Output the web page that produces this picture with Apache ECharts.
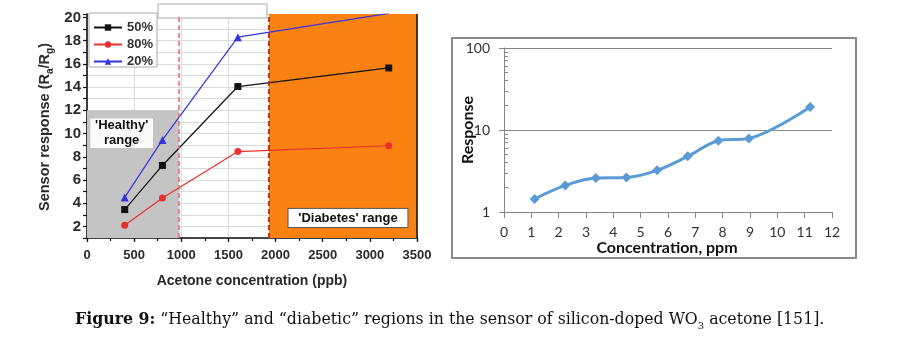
<!DOCTYPE html>
<html><head><meta charset="utf-8">
<script src="https://cdn.jsdelivr.net/npm/echarts@6/dist/echarts.min.js"></script>
<style>html,body{margin:0;padding:0;background:#fff}#c{width:919px;height:355px}</style>
</head><body><div id="c"></div>
<script>
// ---------- Left chart data ----------
const acetonePpb = [400, 800, 1600, 3200];
const rh50 = [3.45, 7.25, 14.05, 15.65];
const rh80 = [2.1, 4.45, 8.45, 8.95];
const rh20 = [4.5, 9.45, 18.3, 20.35];
const leftSeriesNames = ['50%', '80%', '20%'];
const healthyRange = [0, 975, 1, 12];
const healthyLabelBox = [35, 700, 8.75, 11.3];
const diabetesRange = [1930, 3500, 1, 20.3];
const diabetesLabelBox = [2132, 3404, 1.9, 3.55];
const thresholdLines = [975, 1930];

// ---------- Right chart data ----------
const concPpm = [1.12, 2.24, 3.36, 4.48, 5.6, 6.72, 7.84, 8.96, 11.2];
const responseVals = [1.44, 2.11, 2.6, 2.64, 3.22, 4.77, 7.41, 7.9, 19.1];
const logMinorTicks = [2, 3, 4, 5, 6, 7, 8, 9, 20, 30, 40, 50, 60, 70, 80, 90];

const zip = (xs, ys) => xs.map((x, i) => [x, ys[i]]);
const AR = 'Liberation Sans, Arial, sans-serif';
const CAL = 'Lato, Noto Sans, sans-serif';

const chart = echarts.init(document.getElementById('c'));
chart.setOption({
  animation: false,
  backgroundColor: '#fff',
  grid: [
    {left: 87, top: 14, width: 330, height: 224},
    {left: 504, top: 48, width: 328, height: 164}
  ],
  legend: {
    data: leftSeriesNames, orient: 'vertical', left: 93, top: 21, padding: 0,
    itemGap: 4, itemWidth: 28, itemHeight: 8, z: 10,
    textStyle: {fontFamily: AR, fontWeight: 'bold', fontSize: 13, color: '#333'}
  },
  xAxis: [
    {gridIndex: 0, type: 'value', min: 0, max: 3500, interval: 500,
     axisLine: {lineStyle: {color: '#111', width: 1.6}},
     axisTick: {length: 4, lineStyle: {color: '#111', width: 1.2}},
     axisLabel: {margin: 11, fontFamily: AR, fontWeight: 'bold', fontSize: 13, color: '#2a2a2a',
       formatter: v => String(v)},
     splitLine: {show: true, lineStyle: {color: '#dadada', width: 1}}},
    {gridIndex: 0, type: 'value', min: 0, max: 3500, interval: 250, position: 'bottom',
     axisLine: {show: false}, axisTick: {length: 3, lineStyle: {color: '#111', width: 1.2}},
     axisLabel: {show: false}, splitLine: {show: false}},
    {gridIndex: 1, type: 'value', min: 0, max: 12, interval: 1,
     axisLine: {lineStyle: {color: '#868686', width: 1}},
     axisTick: {length: 6, lineStyle: {color: '#868686'}},
     axisLabel: {margin: 13, fontFamily: CAL, fontSize: 14, color: '#333'},
     splitLine: {show: false}}
  ],
  yAxis: [
    {gridIndex: 0, type: 'value', min: 1, max: 20.3, interval: 1,
     axisLine: {lineStyle: {color: '#111', width: 1.6}},
     axisTick: {length: 4, lineStyle: {color: '#111', width: 1.2}},
     axisLabel: {margin: 6, fontFamily: AR, fontWeight: 'bold', fontSize: 15, color: '#2a2a2a',
       formatter: v => (Math.abs(v % 2) < 1e-9 ? String(v) : '')},
     splitLine: {show: true, lineStyle: {color: '#dadada', width: 1}}},
    {gridIndex: 1, type: 'log', logBase: 10, min: 1, max: 100,
     axisLine: {lineStyle: {color: '#868686', width: 1}},
     axisTick: {length: 5, lineStyle: {color: '#868686'}},
     axisLabel: {margin: 14, fontFamily: CAL, fontSize: 14, color: '#333'},
     splitLine: {show: true, lineStyle: {color: '#868686', width: 1}}},
    {gridIndex: 1, type: 'log', logBase: 10, min: 1, max: 100, position: 'left',
     axisLine: {show: false},
     axisTick: {show: true, inside: true, length: 4, customValues: logMinorTicks, lineStyle: {color: '#868686'}},
     axisLabel: {show: false}, splitLine: {show: false}}
  ],
  series: [
    {type: 'line', name: 'bg', xAxisIndex: 0, yAxisIndex: 0, data: [], z: 1, silent: true,
     markArea: {silent: true, data: [
       [{xAxis: healthyRange[0], yAxis: healthyRange[2], itemStyle: {color: '#c4c4c4'}},
        {xAxis: healthyRange[1], yAxis: healthyRange[3]}],
       [{xAxis: diabetesRange[0], yAxis: diabetesRange[2], itemStyle: {color: '#fa8212'}},
        {xAxis: diabetesRange[1], yAxis: diabetesRange[3]}],
       [{xAxis: healthyLabelBox[0], yAxis: healthyLabelBox[2], itemStyle: {color: '#fafafa'},
         label: {show: true, position: 'inside', formatter: "'Healthy'\nrange", lineHeight: 15,
                 fontFamily: AR, fontWeight: 'bold', fontSize: 13, color: '#111'}},
        {xAxis: healthyLabelBox[1], yAxis: healthyLabelBox[3]}],
       [{xAxis: diabetesLabelBox[0], yAxis: diabetesLabelBox[2],
         itemStyle: {color: '#fff', borderColor: '#555', borderWidth: 1},
         label: {show: true, position: 'inside', formatter: "'Diabetes' range",
                 fontFamily: AR, fontWeight: 'bold', fontSize: 13, color: '#111'}},
        {xAxis: diabetesLabelBox[1], yAxis: diabetesLabelBox[3]}]
     ]},
     markLine: {silent: true, symbol: 'none', label: {show: false}, data: [
       {xAxis: thresholdLines[0], lineStyle: {color: '#e06a6a', type: [5, 3], width: 1.5}},
       {xAxis: thresholdLines[1], lineStyle: {color: '#b8342a', type: [5, 3], width: 2}},
       {xAxis: 3500, lineStyle: {color: '#111', type: 'solid', width: 1.5}}
     ]}
    },
    {type: 'line', name: '50%', xAxisIndex: 0, yAxisIndex: 0, data: zip(acetonePpb, rh50), z: 3,
     color: '#111', symbol: 'rect', symbolSize: 7, lineStyle: {width: 1.2}},
    {type: 'line', name: '80%', xAxisIndex: 0, yAxisIndex: 0, data: zip(acetonePpb, rh80), z: 3,
     color: '#e8302c', symbol: 'circle', symbolSize: 7, lineStyle: {width: 1.2}},
    {type: 'line', name: '20%', xAxisIndex: 0, yAxisIndex: 0, data: zip(acetonePpb, rh20), z: 3,
     color: '#3333dd', symbol: 'triangle', symbolSize: 8, lineStyle: {width: 1.2}},
    {type: 'line', name: 'Response', xAxisIndex: 2, yAxisIndex: 1, data: zip(concPpm, responseVals), z: 3,
     color: '#5b9bd5', smooth: 0.35, symbol: 'diamond', symbolSize: 10, lineStyle: {width: 3}}
  ],
  graphic: [
    {type: 'rect', shape: {x: 89, y: 13, width: 68, height: 54}, z: 5,
     style: {fill: '#fff', stroke: '#aaa', lineWidth: 1}},
    {type: 'rect', shape: {x: 158, y: 4, width: 109, height: 14}, z: 5,
     style: {fill: '#fff', stroke: '#aaa', lineWidth: 1}},
    {type: 'text', x: 45, y: 127, rotation: Math.PI / 2, z: 5,
     style: {text: 'Sensor response (R{s|a}/R{s|g})', align: 'center', verticalAlign: 'middle',
       font: 'bold 14.5px Liberation Sans, Arial, sans-serif', fill: '#2a2a2a', lineHeight: 20,
       rich: {s: {fontSize: 10, fontWeight: 'bold', fontFamily: AR, verticalAlign: 'bottom', fill: '#2a2a2a'}}}},
    {type: 'text', x: 252, y: 281, z: 5,
     style: {text: 'Acetone concentration (ppb)', align: 'center', verticalAlign: 'middle',
       font: 'bold 14px Liberation Sans, Arial, sans-serif', fill: '#2a2a2a'}},
    {type: 'rect', shape: {x: 452, y: 38, width: 404, height: 220}, z: 0,
     style: {fill: 'none', stroke: '#8a8a8a', lineWidth: 2}},
    {type: 'text', x: 468, y: 130, rotation: Math.PI / 2, z: 5,
     style: {text: 'Response', align: 'center', verticalAlign: 'middle',
       font: 'bold 16px Lato, Noto Sans, sans-serif', fill: '#111'}},
    {type: 'text', x: 667, y: 248, z: 5,
     style: {text: 'Concentration, ppm', align: 'center', verticalAlign: 'middle',
       font: 'bold 16px Lato, Noto Sans, sans-serif', fill: '#111'}},
    {type: 'text', x: 75, y: 320, z: 5,
     style: {text: '{b|Figure 9:} “Healthy” and “diabetic” regions in the sensor of silicon-doped WO{s|3} acetone [151].',
       align: 'left', verticalAlign: 'middle', lineHeight: 22,
       font: '15.75px DejaVu Serif, serif', fill: '#111',
       rich: {b: {fontWeight: 'bold', fontSize: 15.75, fontFamily: 'DejaVu Serif, serif', fill: '#111'},
              s: {fontSize: 10, fontFamily: 'DejaVu Serif, serif', verticalAlign: 'bottom', fill: '#111'}}}}
  ]
});
</script></body></html>
